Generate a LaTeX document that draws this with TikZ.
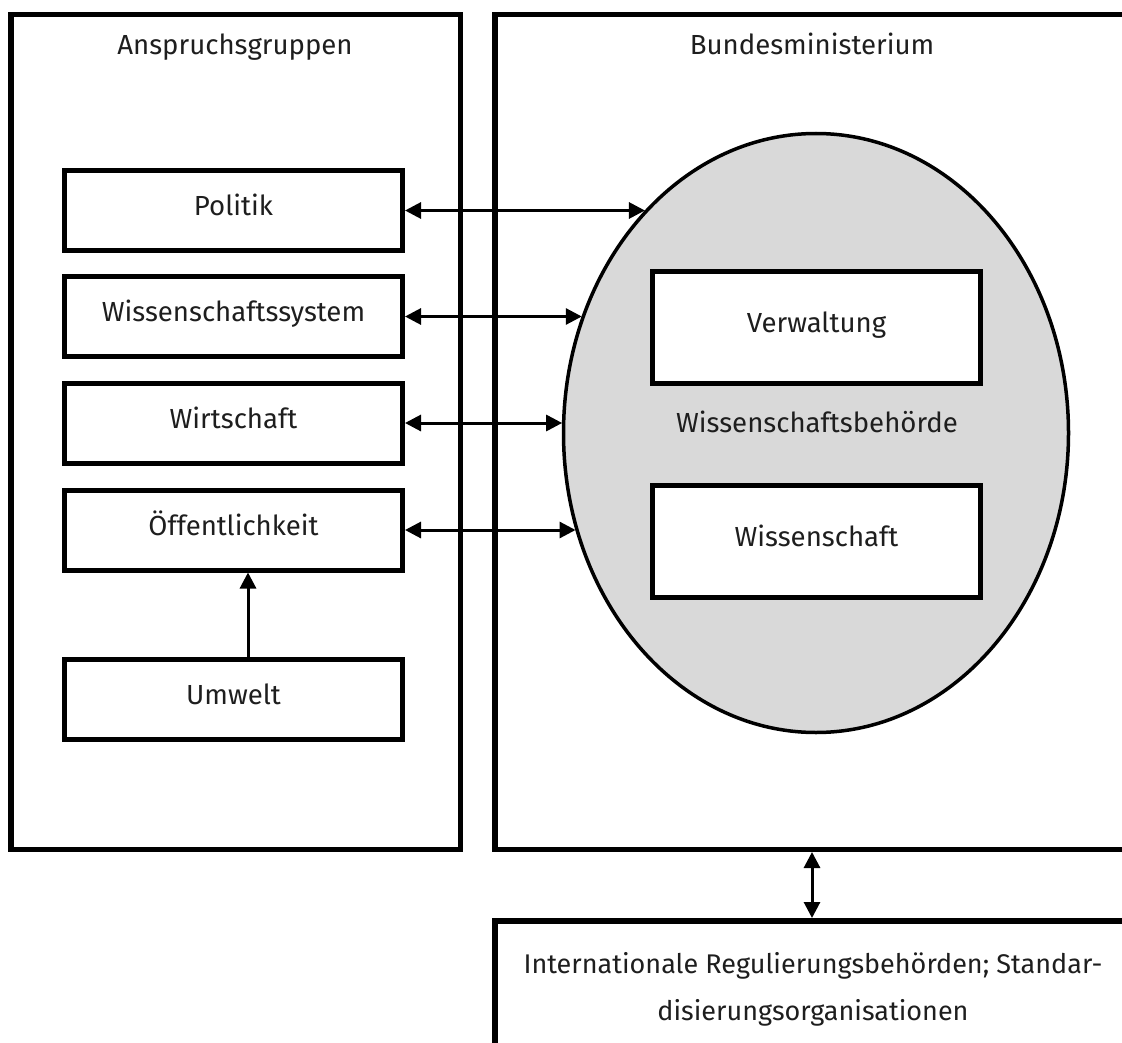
\documentclass[tikz,border=0pt]{standalone}
\usepackage{fontspec}
\setmainfont{Fira Sans}
\usetikzlibrary{arrows.meta,shapes.geometric}
\definecolor{ellgray}{HTML}{D9D9D9}
\definecolor{txtcol}{HTML}{1E1E1E}
\begin{document}
\begin{tikzpicture}[x=1pt,y=-1pt,
  txt/.style={font=\fontsize{27.6}{32}\selectfont, text=txtcol},
  ctxt/.style={txt, text height=20pt, text depth=10pt, inner sep=0pt},
  bigbox/.style={draw, line width=5.5pt, inner sep=0pt},
  box/.style={draw, line width=5pt, fill=white, ctxt},
  lbox/.style={box, minimum width=338pt, minimum height=80pt},
  rbox/.style={box, minimum width=328pt, minimum height=112pt},
  arr/.style={line width=3pt, {Triangle[length=16pt,width=16pt]}-{Triangle[length=16pt,width=16pt]}},
  sarr/.style={line width=3pt, -{Triangle[length=16pt,width=16pt]}}
]
\useasboundingbox (0,0) rectangle (1122,1043);
\clip (0,0) rectangle (1122,1043);
\fill[white] (0,0) rectangle (1122,1043);

% containers
\node[bigbox, minimum width=449.5pt, minimum height=834.5pt] (ag) at (235.5,432) {};
\node[bigbox, minimum width=640pt, minimum height=834.5pt] (bm) at (814.75,432) {};
\node[bigbox, minimum width=640pt, minimum height=200pt] (ib) at (814.75,1020.75) {};

\node[ctxt] (agt) at (235,50) {Anspruchsgruppen};
\node[ctxt] (bmt) at (812,50) {Bundesministerium};

% ellipse
\node[draw, ellipse, line width=3.5pt, fill=ellgray, inner sep=0pt,
      minimum width=505pt, minimum height=599pt] (wb) at (816,433) {};
\node[ctxt] (wbt) at (817,427) {Wissenschaftsbehörde};

% left boxes
\node[lbox] (pol) at (233.5,210.5) {Politik};
\node[lbox] (wss) at (233.5,316.5) {Wissenschaftssystem};
\node[lbox] (wir) at (233.5,423) {Wirtschaft};
\node[lbox] (oef) at (233.5,530) {Öffentlichkeit};
\node[lbox] (umw) at (233.5,699) {Umwelt};

% right boxes
\node[rbox] (ver) at (816.5,327.5) {Verwaltung};
\node[rbox] (wis) at (816.5,541.5) {Wissenschaft};

% points on ellipse border
\coordinate (e1) at ({816-254*sqrt(1-((210.5-433)/301)^2)},210.5);
\coordinate (e2) at ({816-254*sqrt(1-((316.5-433)/301)^2)},316.5);
\coordinate (e3) at ({816-254*sqrt(1-((423-433)/301)^2)},423);
\coordinate (e4) at ({816-254*sqrt(1-((530-433)/301)^2)},530);
\coordinate (vx) at (812,0);

\draw[arr] (pol.east) -- (e1);
\draw[arr] (wss.east) -- (e2);
\draw[arr] (wir.east) -- (e3);
\draw[arr] (oef.east) -- (e4);
\draw[sarr] ([xshift=14.5pt]umw.north) -- ([xshift=14.5pt]oef.south);
\draw[arr] (bm.south -| vx) -- (ib.north -| vx);

% bottom text
\node[txt, align=center, font=\fontsize{27}{47}\selectfont] (ibt) at (813,989)
  {Internationale Regulierungsbehörden; Standar-\\disierungsorganisationen};
\end{tikzpicture}
\end{document}
